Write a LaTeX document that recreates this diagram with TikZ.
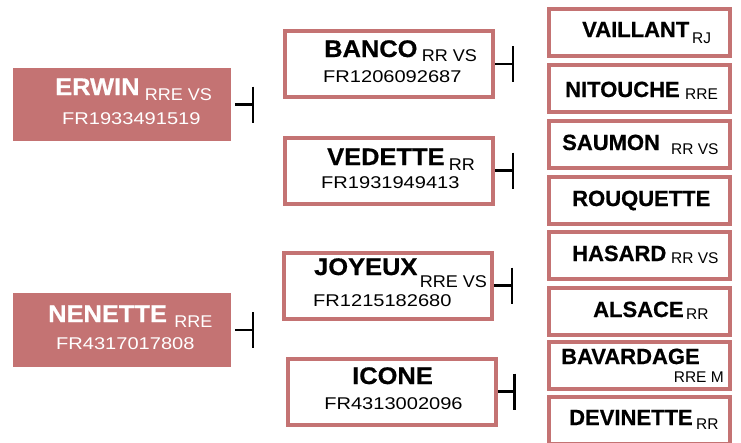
\documentclass[tikz,border=0pt]{standalone}
\usepackage{fontspec}
\setmainfont{Liberation Sans}
\usetikzlibrary{arrows.meta, positioning}

\definecolor{rose}{HTML}{C47373}

\begin{document}
\begin{tikzpicture}[
    x=1pt,
    y=-1pt,
    sire/.style={
        rectangle,
        fill=rose,
        inner sep=0pt,
        minimum width=218pt,
        minimum height=73.5pt
    },
    parent/.style={
        rectangle,
        draw=rose,
        line width=4pt,
        fill=white,
        inner sep=0pt,
        minimum width=208pt,
        minimum height=66pt
    },
    grand/.style={
        rectangle,
        draw=rose,
        line width=4pt,
        fill=white,
        inner sep=0pt,
        minimum width=181pt,
        minimum height=47pt
    },
    bigname/.style={
        inner sep=0pt,
        anchor=base west,
        font=\fontsize{24}{24}\selectfont\bfseries\addfontfeatures{FakeStretch=1.06,FakeBold=0.6}
    },
    gname/.style={
        inner sep=0pt,
        anchor=base west,
        font=\fontsize{22}{22}\selectfont\bfseries\addfontfeatures{FakeBold=0.6}
    },
    bigsub/.style={
        inner sep=0pt,
        anchor=base west,
        font=\fontsize{17}{17}\selectfont\addfontfeatures{FakeStretch=1.06}
    },
    gsub/.style={
        inner sep=0pt,
        anchor=base west,
        font=\fontsize{15.5}{15.5}\selectfont
    },
    regno/.style={
        inner sep=0pt,
        anchor=base west,
        font=\fontsize{17}{17}\selectfont\addfontfeatures{FakeStretch=1.18}
    },
    link/.style={
        -{Bar[width=36pt]},
        line width=2.2pt,
        black
    }
]

\useasboundingbox (0,0) rectangle (741,442);

% Foraeldre
\node[sire] (erwin) at (122,104.5) {};
\node[sire] (nenette) at (122,330) {};

\node[bigname, white] (erwinN) at (55,95) {ERWIN};
\node[bigsub, white, xshift=5pt, yshift=-5pt] (erwinS) at (erwinN.base east) {RRE VS};
\node[regno, white] (erwinR) at (62,124) {FR1933491519};

\node[bigname, white] (nenetteN) at (48,322) {NENETTE};
\node[bigsub, white, xshift=7pt, yshift=-5pt] (nenetteS) at (nenetteN.base east) {RRE};
\node[regno, white] (nenetteR) at (56,349) {FR4317017808};

% Bedsteforaeldre
\node[parent] (banco) at (389,64) {};
\node[parent] (vedette) at (389,170.5) {};
\node[parent] (joyeux) at (388,285.5) {};
\node[parent] (icone) at (391.5,391.5) {};

\node[bigname] (bancoN) at (324,57) {BANCO};
\node[bigsub, xshift=4pt, yshift=-4pt] (bancoS) at (bancoN.base east) {RR VS};
\node[regno] (bancoR) at (323,82) {FR1206092687};

\node[bigname] (vedetteN) at (327,165) {VEDETTE};
\node[bigsub, xshift=4pt, yshift=-5pt] (vedetteS) at (vedetteN.base east) {RR};
\node[regno] (vedetteR) at (321,188) {FR1931949413};

\node[bigname] (joyeuxN) at (314,275) {JOYEUX};
\node[bigsub, xshift=2pt, yshift=-12pt] (joyeuxS) at (joyeuxN.base east) {RRE VS};
\node[regno] (joyeuxR) at (313,306) {FR1215182680};

\node[bigname, anchor=base] (iconeN) at (392.5,384) {ICONE};
\node[regno, anchor=base] (iconeR) at (393.5,409) {FR4313002096};

% Oldeforaeldre
\node[grand] (vaillant) at (639.5,32.5) {};
\node[grand] (nitouche) at (639.5,88.5) {};
\node[grand] (saumon) at (639.5,144.5) {};
\node[grand] (rouquette) at (639.5,200.5) {};
\node[grand] (hasard) at (639.5,255.5) {};
\node[grand] (alsace) at (639.5,311) {};
\node[grand] (bavardage) at (639.5,365.5) {};
\node[grand] (devinette) at (639.5,420.5) {};

\node[gname] (vaillantN) at (582,37) {VAILLANT};
\node[gsub] (vaillantS) at (692,43) {RJ};

\node[gname] (nitoucheN) at (565,97) {NITOUCHE};
\node[gsub] (nitoucheS) at (685,99) {RRE};

\node[gname] (saumonN) at (562,150) {SAUMON};
\node[gsub] (saumonS) at (671,154) {RR VS};

\node[gname] (rouquetteN) at (572,206) {ROUQUETTE};

\node[gname] (hasardN) at (572,261) {HASARD};
\node[gsub] (hasardS) at (671,263) {RR VS};

\node[gname] (alsaceN) at (593,317) {ALSACE};
\node[gsub] (alsaceS) at (686,319) {RR};

\node[gname] (bavardageN) at (561,364) {BAVARDAGE};
\node[gsub, anchor=base east] (bavardageS) at (724,382) {RRE M};

\node[gname] (devinetteN) at (569,425) {DEVINETTE};
\node[gsub] (devinetteS) at (696,429) {RR};

% Forbindelser
\coordinate[right=23pt of erwin] (erwinT);
\coordinate[right=23pt of nenette] (nenetteT);
\coordinate[right=19pt of banco] (bancoT);
\coordinate[right=19pt of vedette] (vedetteT);
\coordinate[right=19pt of joyeux] (joyeuxT);
\coordinate[right=18pt of icone] (iconeT);

\draw[link, shorten <=4pt] (erwin) -- (erwinT);
\draw[link, shorten <=4pt] (nenette) -- (nenetteT);
\draw[link] (banco) -- (bancoT);
\draw[link] (vedette) -- (vedetteT);
\draw[link] (joyeux) -- (joyeuxT);
\draw[link] (icone) -- (iconeT);

\end{tikzpicture}
\end{document}
